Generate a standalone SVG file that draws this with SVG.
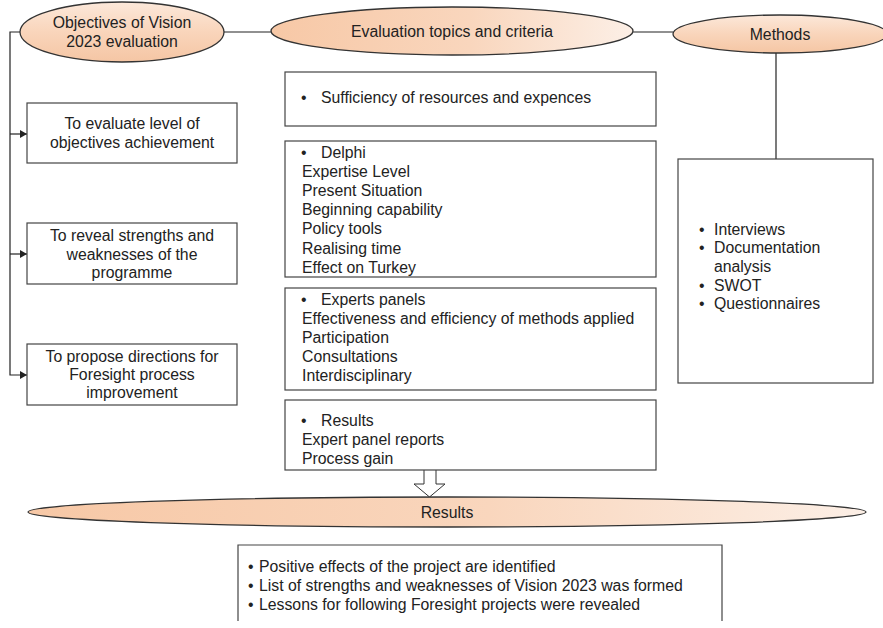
<svg xmlns="http://www.w3.org/2000/svg" width="883" height="628" viewBox="0 0 883 628">
  <defs>
    <linearGradient id="peachV" x1="0" y1="0" x2="0" y2="1">
      <stop offset="0" stop-color="#fce8da"/>
      <stop offset="0.5" stop-color="#f9d5bb"/>
      <stop offset="1" stop-color="#f5c6a4"/>
    </linearGradient>
    <linearGradient id="peachH" x1="0" y1="0" x2="1" y2="0">
      <stop offset="0" stop-color="#f7c8a6"/>
      <stop offset="0.55" stop-color="#f9d6bd"/>
      <stop offset="1" stop-color="#fcefe6"/>
    </linearGradient>
    <marker id="arr" markerWidth="7" markerHeight="8" refX="7" refY="4" orient="auto" markerUnits="userSpaceOnUse">
      <path d="M0,0 L7,4 L0,8 Z" fill="#222"/>
    </marker>
  </defs>
  <style>
    text { font-family: "Liberation Sans", Arial, Helvetica, sans-serif; font-size: 15.8px; fill: #222; }
    .c { text-anchor: middle; }
    .oval { stroke: #333; stroke-width: 1.3; }
    .box { fill: #fff; stroke: #444; stroke-width: 1.2; }
    .ln { fill: none; stroke: #222; stroke-width: 1.2; }
  </style>

  <rect width="883" height="628" fill="#fff"/>

  <!-- connectors -->
  <g id="connectors">
    <line class="ln" x1="224" y1="32" x2="272" y2="32"/>
    <line class="ln" x1="633" y1="32" x2="673" y2="32"/>
    <line class="ln" x1="776" y1="53" x2="776" y2="159"/>
    <path class="ln" d="M20,32 H10 V375 H27" marker-end="url(#arr)"/>
    <line class="ln" x1="10" y1="134" x2="27" y2="134" marker-end="url(#arr)"/>
    <line class="ln" x1="10" y1="254" x2="27" y2="254" marker-end="url(#arr)"/>
    <path d="M424,470 V484 H414 L429.5,497 L445,484 H436 V470" fill="#fff" stroke="#333" stroke-width="1"/>
  </g>

  <!-- header ovals -->
  <g id="objectives">
    <ellipse class="oval" cx="122" cy="32" rx="102" ry="30" fill="url(#peachV)"/>
    <text class="c" x="122" y="28">Objectives of Vision</text>
    <text class="c" x="122" y="47">2023 evaluation</text>
  </g>
  <g id="topics">
    <ellipse class="oval" cx="452" cy="31" rx="181" ry="24" fill="url(#peachH)"/>
    <text class="c" x="452" y="37">Evaluation topics and criteria</text>
  </g>
  <g id="methods">
    <ellipse class="oval" cx="780" cy="34" rx="107" ry="19" fill="url(#peachV)"/>
    <text class="c" x="780" y="40">Methods</text>
  </g>

  <!-- objectives boxes -->
  <g id="obj1">
    <rect class="box" x="27" y="103" width="210" height="60"/>
    <text class="c" x="132" y="129">To evaluate level of</text>
    <text class="c" x="132" y="148">objectives achievement</text>
  </g>
  <g id="obj2">
    <rect class="box" x="27" y="223" width="210" height="61"/>
    <text class="c" x="132" y="241">To reveal strengths and</text>
    <text class="c" x="132" y="260">weaknesses of the</text>
    <text class="c" x="132" y="278">programme</text>
  </g>
  <g id="obj3">
    <rect class="box" x="27" y="344" width="210" height="61"/>
    <text class="c" x="132" y="362">To propose directions for</text>
    <text class="c" x="132" y="380">Foresight process</text>
    <text class="c" x="132" y="398">improvement</text>
  </g>

  <!-- topics boxes -->
  <g id="resources">
    <rect class="box" x="285" y="72" width="371" height="54"/>
    <text x="301" y="103">•</text>
    <text x="321" y="103">Sufficiency of resources and expences</text>
  </g>
  <g id="delphi">
    <rect class="box" x="285" y="141" width="371" height="136"/>
    <text x="301" y="158">•</text>
    <text x="321" y="158">Delphi</text>
    <text x="302" y="177">Expertise Level</text>
    <text x="302" y="196">Present Situation</text>
    <text x="302" y="215">Beginning capability</text>
    <text x="302" y="234">Policy tools</text>
    <text x="302" y="254">Realising time</text>
    <text x="302" y="273">Effect on Turkey</text>
  </g>
  <g id="panels">
    <rect class="box" x="285" y="288" width="371" height="102"/>
    <text x="301" y="305">•</text>
    <text x="321" y="305">Experts panels</text>
    <text x="302" y="324">Effectiveness and efficiency of methods applied</text>
    <text x="302" y="343">Participation</text>
    <text x="302" y="362">Consultations</text>
    <text x="302" y="381">Interdisciplinary</text>
  </g>
  <g id="outputs">
    <rect class="box" x="285" y="400" width="371" height="70"/>
    <text x="301" y="426">•</text>
    <text x="321" y="426">Results</text>
    <text x="302" y="445">Expert panel reports</text>
    <text x="302" y="464">Process gain</text>
  </g>

  <!-- methods box -->
  <g id="methodList">
    <rect class="box" x="678" y="159" width="195" height="224"/>
    <text x="699" y="235">•</text>
    <text x="714" y="235">Interviews</text>
    <text x="699" y="253">•</text>
    <text x="714" y="253">Documentation</text>
    <text x="714" y="272">analysis</text>
    <text x="699" y="291">•</text>
    <text x="714" y="291">SWOT</text>
    <text x="699" y="309">•</text>
    <text x="714" y="309">Questionnaires</text>
  </g>

  <!-- results -->
  <g id="results">
    <ellipse class="oval" cx="447" cy="512" rx="419" ry="15" fill="url(#peachH)"/>
    <text class="c" x="447" y="518">Results</text>
  </g>
  <g id="findings">
    <path class="box" d="M238,621 V545 H722 V621"/>
    <text x="248" y="572">•</text>
    <text x="259" y="572">Positive effects of the project are identified</text>
    <text x="248" y="591">•</text>
    <text x="259" y="591">List of strengths and weaknesses of Vision 2023 was formed</text>
    <text x="248" y="610">•</text>
    <text x="259" y="610">Lessons for following Foresight projects were revealed</text>
  </g>
</svg>
